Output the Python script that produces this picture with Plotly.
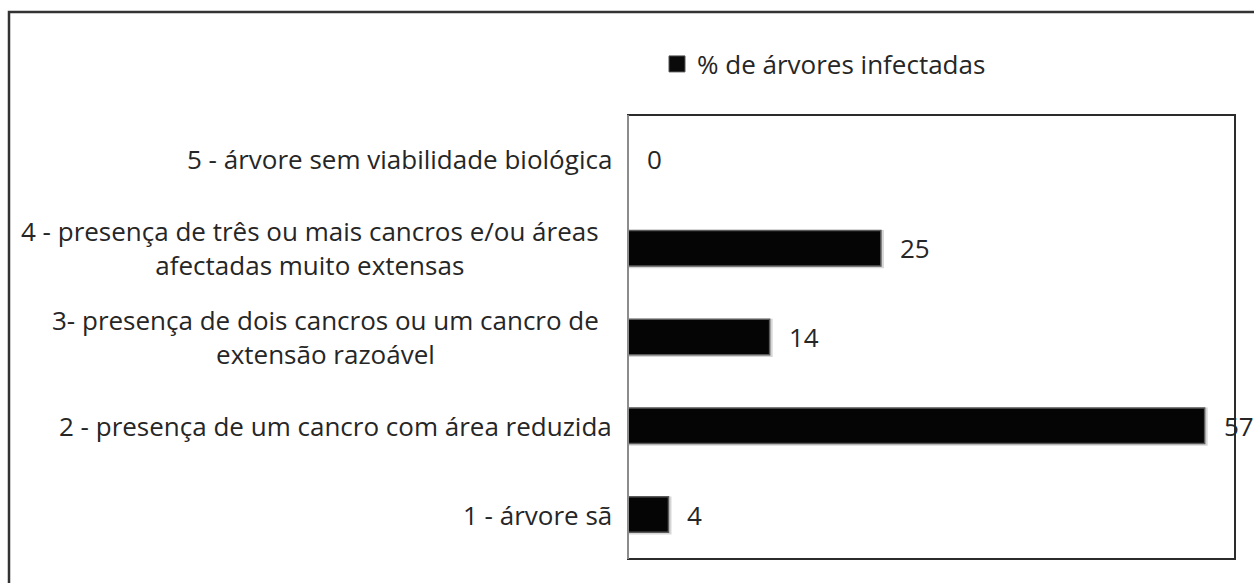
import plotly.graph_objects as go

categories = [
    "1 - árvore sã",
    "2 - presença de um cancro com área reduzida",
    "3- presença de dois cancros ou um cancro de<br>extensão razoável",
    "4 - presença de três ou mais cancros e/ou áreas<br>afectadas muito extensas",
    "5 - árvore sem viabilidade biológica",
]
values = [4, 57, 14, 25, 0]
series_name = "% de árvores infectadas"

FONT = "Open Sans"
FS = 26
TXT = "#262626"

W, H = 1254, 583
PL, PR, PT, PB = 628, 1235, 115, 559  # plot area in page pixels
L, T, R, B = PL, PT, W - PR, H - PB
pw, ph = PR - PL, PB - PT


def px_x(p):
    return (p - PL) / pw


def px_y(p):
    return (PB - p) / ph


fig = go.Figure()

# soft shadow under the bars
fig.add_trace(go.Bar(
    x=[v + 0.3 if v > 0 else 0 for v in values], y=categories, orientation="h",
    width=0.43, offset=-0.225,
    marker=dict(color="rgba(0,0,0,0.16)", line=dict(width=0)),
    showlegend=False, hoverinfo="skip",
))
fig.add_trace(go.Bar(
    x=values, y=categories, orientation="h", name=series_name,
    width=0.4, offset=-0.2, showlegend=False,
    marker=dict(color="#050505", line=dict(color="#5a5a5a", width=1.5)),
))
# legend entry
fig.add_trace(go.Scatter(
    x=[None], y=[None], mode="markers", name=series_name,
    marker=dict(symbol="square", size=20, color="#0a0a0a",
                line=dict(color="#555555", width=1)),
))

# category labels (centered multi-line, right-anchored)
for c in categories:
    wrapped = "<br>" in c
    fig.add_annotation(
        x=0, xref="paper", y=c, yref="y", text=c, showarrow=False,
        xanchor="right", xshift=-27 if wrapped else -14, align="center",
        font=dict(family=FONT, size=FS, color=TXT),
    )
# value labels
for c, v in zip(categories, values):
    fig.add_annotation(
        x=v, xref="x", y=c, yref="y", text=str(v), showarrow=False,
        xanchor="left", xshift=17, font=dict(family=FONT, size=FS, color=TXT),
    )

shapes = [
    # outer chart border (right/bottom fall outside the picture)
    dict(type="rect", xref="paper", yref="paper",
         x0=px_x(9), x1=px_x(W + 20), y0=px_y(H + 20), y1=px_y(12),
         line=dict(color="#333333", width=2.5), layer="below"),
    # plot area frame
    dict(type="rect", xref="paper", yref="paper", x0=0, x1=1, y0=0, y1=1,
         line=dict(color="#2b2b2b", width=2), layer="above"),
    dict(type="line", xref="paper", yref="paper", x0=0, x1=0, y0=0, y1=1,
         line=dict(color="#8c8c8c", width=2), layer="above"),
]

fig.update_layout(
    width=W, height=H,
    margin=dict(l=L, r=R, t=T, b=B, autoexpand=False),
    paper_bgcolor="white", plot_bgcolor="white",
    barmode="overlay",
    showlegend=True,
    legend=dict(x=px_x(657), y=px_y(64), xanchor="left", yanchor="middle",
                font=dict(family=FONT, size=FS, color=TXT),
                bgcolor="rgba(0,0,0,0)", itemsizing="trace"),
    xaxis=dict(range=[0, 60], showgrid=False, zeroline=False, showticklabels=False,
               ticks="", showline=False, fixedrange=True),
    yaxis=dict(type="category", categoryorder="array", categoryarray=categories,
               showgrid=False, zeroline=False, showticklabels=False, ticks="",
               showline=False, range=[-0.5, 4.5], fixedrange=True),
    shapes=shapes,
    font=dict(family=FONT, color=TXT),
)

fig.write_html(
    "out.html",
    config={"displayModeBar": False},
    post_script="document.body.style.margin='0';document.body.style.overflow='hidden';",
)
